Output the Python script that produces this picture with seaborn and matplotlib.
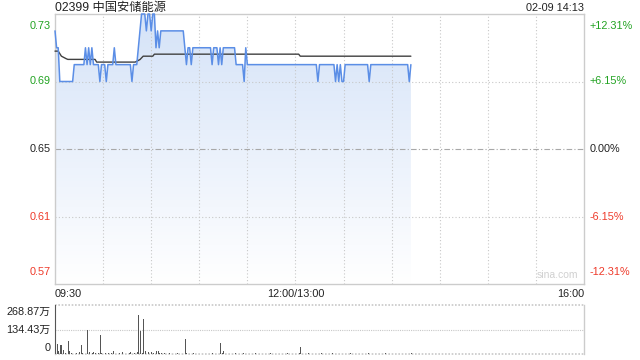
import numpy as np
import pandas as pd
import matplotlib
matplotlib.use("Agg")
import matplotlib.pyplot as plt
import seaborn as sns
from matplotlib.colors import LinearSegmentedColormap

# ---------------- data ----------------
title = "02399 中国安储能源"
stamp = "02-09 14:13"
prev_close = 0.65
price_ticks = [0.73, 0.69, 0.65, 0.61, 0.57]
pct_labels = ["+12.31%", "+6.15%", "0.00%", "-6.15%", "-12.31%"]
time_labels = ["09:30", "12:00/13:00", "16:00"]
time_label_minutes = [0, 150, 330]
session_minutes = 330
vol_max = 268.87
vol_tick_values = [268.87, 134.43, 0]
vol_labels = ["268.87万", "134.43万", "0"]

# minute price, run-length encoded: (level, number of minutes)
price_rle = [(0.72, 1), (0.71, 2), (0.69, 9), (0.70, 7), (0.71, 1), (0.70, 1),
             (0.71, 1), (0.70, 1), (0.71, 1), (0.70, 4), (0.69, 1), (0.70, 3),
             (0.69, 1), (0.70, 4), (0.71, 1), (0.70, 10), (0.69, 1), (0.70, 3),
             (0.71, 1), (0.72, 1), (0.73, 3), (0.72, 1), (0.73, 2), (0.72, 1),
             (0.73, 2), (0.71, 1), (0.72, 1), (0.71, 1), (0.72, 15), (0.71, 1),
             (0.70, 1), (0.71, 2), (0.70, 1), (0.71, 12), (0.70, 1), (0.71, 3),
             (0.70, 1), (0.71, 1), (0.70, 1), (0.71, 8), (0.70, 5), (0.69, 1),
             (0.71, 1), (0.70, 44), (0.69, 1), (0.70, 10), (0.69, 1), (0.70, 1),
             (0.69, 1), (0.70, 1), (0.69, 2), (0.70, 15), (0.69, 1), (0.70, 24),
             (0.69, 1), (0.70, 1)]

# average price line, run-length encoded
avg_rle = [(0.7080, 3), (0.7065, 1), (0.7050, 1), (0.7045, 1), (0.7040, 1),
           (0.7035, 1), (0.7031, 18), (0.7015, 25), (0.7020, 1), (0.7025, 1),
           (0.7030, 1), (0.7040, 1), (0.7050, 7), (0.7062, 91), (0.7050, 70)]

# minute volume (万)
volume = [268.87, 56, 19, 47, 50, 22, 3, 2, 69, 19,
          3, 2, 1, 8, 2, 13, 50, 8, 1, 2,
          134, 13, 2, 8, 13, 8, 2, 3, 106, 8,
          2, 3, 2, 8, 2, 3, 19, 2, 2, 11,
          3, 2, 13, 2, 8, 2, 3, 11, 2, 3,
          2, 13, 214, 125, 8, 190, 19, 2, 13, 2,
          13, 8, 2, 19, 19, 3, 8, 2, 8, 2,
          2, 3, 1, 2, 1, 2, 3, 1, 2, 1,
          2, 84, 3, 2, 1, 2, 5, 2, 1, 2,
          1, 2, 1, 1, 2, 1, 2, 1, 3, 2,
          1, 2, 28, 58, 3, 17, 2, 1, 2, 1,
          2, 1, 3, 1, 2, 1, 2, 3, 1, 2,
          1, 2, 1, 1, 2, 3, 1, 2, 1, 2,
          1, 1, 2, 1, 3, 2, 1, 2, 1, 1,
          2, 1, 2, 1, 1, 3, 2, 1, 2, 1,
          2, 1, 3, 39, 2, 1, 2, 1, 3, 1,
          2, 1, 1, 2, 1, 2, 3, 1, 2, 1,
          1, 2, 1, 3, 1, 2, 1, 2, 1, 1,
          2, 1, 2, 1, 3, 1, 2, 1, 1, 2,
          1, 2, 1, 1, 2, 3, 1, 2, 1, 2,
          1, 1, 2, 1, 2, 1, 3, 1, 2, 1,
          1, 2, 1, 2, 1, 2, 1, 1, 2, 1,
          2, 1, 3]

# ---------------- build tables ----------------
price = np.concatenate([[lv] * k for lv, k in price_rle])
avg = np.concatenate([[lv] * k for lv, k in avg_rle])
n = len(price)
minutes = np.arange(n)
df = pd.DataFrame({"minute": minutes, "price": price, "avg": avg[:n]})
vdf = pd.DataFrame({"minute": minutes, "volume": volume[:n]})

# ---------------- style ----------------
sns.set_style("white")
plt.rcParams["font.family"] = ["Liberation Sans", "Noto Sans CJK SC", "DejaVu Sans"]

W, H = 640, 360
fig = plt.figure(figsize=(6.4, 3.6), dpi=100)
L, R = 55, 584
ax = fig.add_axes([L / W, 1 - 284 / H, (R - L) / W, (284 - 14) / H])
axv = fig.add_axes([L / W, 1 - 354 / H, (R - L) / W, (354 - 305) / H])

green = "#22a322"
red = "#ee3a2a"
border = "#cccccc"
txt = "#222222"

# gradient fill under the price line
poly = ax.fill_between(df["minute"], df["price"], price_ticks[-1], color="none", lw=0)
grad = np.linspace(0, 1, 256).reshape(-1, 1)
cmap = LinearSegmentedColormap.from_list("g", ["#ffffff", "#d5e3f8"])
im = ax.imshow(grad, extent=[0, n - 1, price_ticks[-1], price_ticks[0]], origin="lower",
               aspect="auto", cmap=cmap, zorder=0.2)
im.set_clip_path(poly.get_paths()[0], transform=ax.transData)

# grid lines (drawn over the fill)
for m in range(30, session_minutes, 30):
    ax.axvline(m, color="#c8c8c8", lw=0.8, ls=(0, (1, 2)), zorder=2)
for p in price_ticks[1:-1]:
    if p == prev_close:
        ax.axhline(p, color="#a8a8a8", lw=0.8, ls=(0, (5, 2, 1, 2)), zorder=2)
    else:
        ax.axhline(p, color="#c8c8c8", lw=0.8, ls=(0, (1, 2)), zorder=2)

sns.lineplot(data=df, x="minute", y="avg", ax=ax, color="#404040", lw=1.0, zorder=3)
sns.lineplot(data=df, x="minute", y="price", ax=ax, color="#5b8ee6", lw=1.1, zorder=4)
for ln in ax.get_lines():
    ln.set_clip_on(False)

ax.set_xlim(0, session_minutes)
ax.set_ylim(price_ticks[-1], price_ticks[0])
ax.set_xticks([])
ax.set_yticks([])
ax.set_xlabel("")
ax.set_ylabel("")
for s in ax.spines.values():
    s.set_color(border)
    s.set_linewidth(1)

# y labels (left prices, right percentages)
ytr = ax.get_yaxis_transform()
cols = [green, green, txt, red, red]
vas = ["top", "center", "center", "center", "bottom"]
for p, pl, c, va in zip(price_ticks, pct_labels, cols, vas):
    off = -0.004 if va == "top" else (0.004 if va == "bottom" else 0)
    ax.text(-0.008, p + off, f"{p:.2f}", transform=ytr, ha="right", va=va,
            color=c, fontsize=7.8)
    ax.text(1.01, p + off, pl, transform=ytr, ha="left", va=va, color=c, fontsize=7.8)

ax.text(0.99, 0.015, "sina.com", transform=ax.transAxes, ha="right", va="bottom",
        color="#d0d0d0", fontsize=7.5)

# titles
fig.text(L / W, 1 - 8 / H, title, ha="left", va="center", fontsize=8.8, color=txt)
fig.text(R / W, 1 - 8 / H, stamp, ha="right", va="center", fontsize=7.8, color=txt)

# time labels
for lab, m in zip(time_labels, time_label_minutes):
    xf = (L + (R - L) * m / session_minutes) / W
    ha = "left" if m == 0 else ("right" if m == session_minutes else "center")
    fig.text(xf, 1 - 294 / H, lab, ha=ha, va="center", fontsize=7.8, color=txt)

# ---------------- volume panel ----------------
axv.bar(vdf["minute"], vdf["volume"], width=0.6, color="#555555", lw=0, zorder=3,
        align="edge")
axv.set_xlim(0, session_minutes)
axv.set_ylim(0, vol_max)
axv.set_xticks([])
axv.set_yticks([])
axv.set_xlabel("")
axv.set_ylabel("")
axv.axhline(vol_tick_values[1], color="#c8c8c8", lw=0.8, ls=(0, (1, 1)), zorder=1)
for side in ["top", "bottom"]:
    axv.spines[side].set_visible(False)
axv.axhline(vol_max, color="#c8c8c8", lw=1.2, ls=(0, (1, 1)), clip_on=False, zorder=1)
axv.axhline(0, color="#c8c8c8", lw=1.2, ls=(0, (1, 1)), clip_on=False, zorder=1)
for side in ["left", "right"]:
    axv.spines[side].set_color(border)
    axv.spines[side].set_linewidth(1)

vtr = axv.get_yaxis_transform()
for v, lab, va in zip(vol_tick_values, vol_labels, ["top", "center", "bottom"]):
    off = -8 if va == "top" else (8 if va == "bottom" else 0)
    axv.text(-0.008, v + off, lab, transform=vtr, ha="right", va=va,
             fontsize=7.8, color=txt)

fig.savefig("out.png", dpi=100)
